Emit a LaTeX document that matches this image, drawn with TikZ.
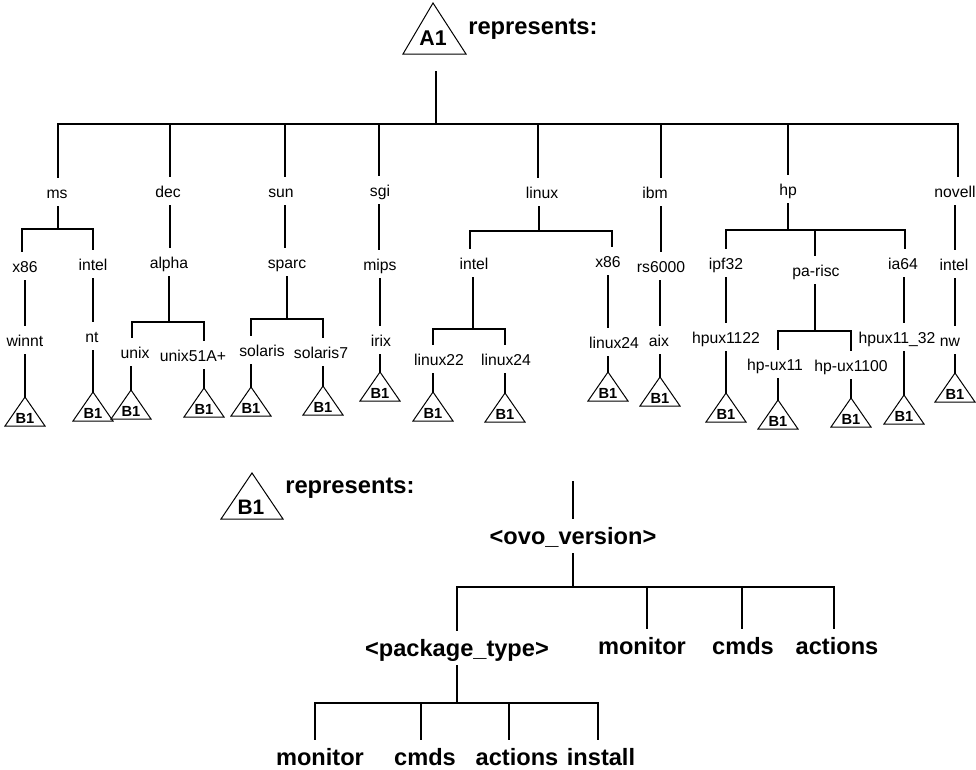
\documentclass[tikz,border=0pt]{standalone}
\usepackage{fontspec}
\setmainfont{Liberation Sans}
\newcommand\btri[3]{%
  \coordinate (#1) at (#2,#3);
  \draw[tri] ([shift={(-20,29)}]#1) -- (#1) -- ([shift={(20,29)}]#1) -- cycle;
  \node[btxt] (#1-t) at ([shift={(0,26)}]#1) {B1};}
\begin{document}
\begin{tikzpicture}[x=0.75pt,y=-0.75pt,
  ln/.style={line width=1.5pt,line cap=rect},
  tri/.style={line width=0.75pt,line join=miter},
  lab/.style={font=\fontsize{11.8}{13}\selectfont,anchor=base,inner sep=0pt,inner xsep=1pt,text height=15.75pt,text depth=6.75pt},
  blab/.style={font=\bfseries\fontsize{17.7}{20}\selectfont,anchor=base,inner sep=0pt,inner xsep=1pt,text height=19.5pt,text depth=7pt},
  replab/.style={font=\bfseries\fontsize{17.8}{20}\selectfont,anchor=base west,inner sep=0pt},
  btxt/.style={font=\bfseries\fontsize{11}{12}\selectfont,anchor=base,inner sep=0pt},
  bigtxt/.style={font=\bfseries\fontsize{16}{18}\selectfont,anchor=base,inner sep=0pt}]
\useasboundingbox (0,0) rectangle (976,769);

% ---------- A1 header ----------
\coordinate (A1) at (433,3);
\draw[tri] ([shift={(-30,51)}]A1) -- (A1) -- ([shift={(33,51)}]A1) -- cycle;
\node[bigtxt] (A1t) at (433,45) {A1};
\node[replab] (rep1) at (468,34) {represents:};

% ---------- root ----------
\coordinate (rt) at (436,72);
\coordinate (rb) at (436,124);
\draw[ln] (rt) -- (rb);
\coordinate (jms) at (58,124);
\coordinate (jdec) at (170,124);
\coordinate (jsun) at (285,124);
\coordinate (jsgi) at (379,124);
\coordinate (jlinux) at (538,124);
\coordinate (jibm) at (661,124);
\coordinate (jhp) at (788,124);
\coordinate (jnovell) at (958,124);
\draw[ln] (jms) -- (jnovell);

\node[lab] (ms) at (57,198) {ms};
\node[lab] (dec) at (168,197) {dec};
\node[lab] (sun) at (281,197) {sun};
\node[lab] (sgi) at (380,196) {sgi};
\node[lab] (linux) at (542,198) {linux};
\node[lab] (ibm) at (655,198) {ibm};
\node[lab] (hp) at (788,195) {hp};
\node[lab] (novell) at (955,197) {novell};
\foreach \n/\j in {ms/jms,dec/jdec,sun/jsun,sgi/jsgi,linux/jlinux,ibm/jibm,hp/jhp,novell/jnovell}
  \draw[ln] (\j) -- (\j |- \n.north);

% ---------- ms ----------
\coordinate (kms) at (58,229);
\draw[ln] (kms |- ms.south) -- (kms);
\coordinate (kx86) at (22,229);
\coordinate (kintela) at (93,229);
\draw[ln] (kx86) -- (kintela);
\node[lab] (x86a) at (25,272) {x86};
\node[lab] (intela) at (93,270) {intel};
\draw[ln] (kx86) -- (kx86 |- x86a.north);
\draw[ln] (kintela) -- (kintela |- intela.north);
\node[lab] (winnt) at (25,346) {winnt};
\btri{twinnt}{25}{397}
\draw[ln] (twinnt |- x86a.south) -- (twinnt |- winnt.north);
\draw[ln] (twinnt |- winnt.south) -- (twinnt);
\node[lab] (nt) at (92,342) {nt};
\btri{tnt}{93}{392}
\draw[ln] (tnt |- intela.south) -- (tnt |- nt.north);
\draw[ln] (tnt |- nt.south) -- (tnt);

% ---------- dec ----------
\node[lab] (alpha) at (169,268) {alpha};
\draw[ln] (jdec |- dec.south) -- (jdec |- alpha.north);
\coordinate (kdec) at (169,322);
\draw[ln] (kdec |- alpha.south) -- (kdec);
\coordinate (kunix) at (132,322);
\coordinate (kunix51) at (204,322);
\draw[ln] (kunix) -- (kunix51);
\node[lab] (unix) at (135,358) {unix};
\node[lab] (unix51) at (193,361) {unix51A+};
\draw[ln] (kunix) -- (kunix |- unix.north);
\draw[ln] (kunix51) -- (kunix51 |- unix51.north);
\btri{tunix}{131}{390}
\btri{tunix51}{204}{388}
\draw[ln] (tunix |- unix.south) -- (tunix);
\draw[ln] (tunix51 |- unix51.south) -- (tunix51);

% ---------- sun ----------
\node[lab] (sparc) at (287,268) {sparc};
\draw[ln] (jsun |- sun.south) -- (jsun |- sparc.north);
\coordinate (ksun) at (287,319);
\draw[ln] (ksun |- sparc.south) -- (ksun);
\coordinate (ksol) at (251,319);
\coordinate (ksol7) at (323,319);
\draw[ln] (ksol) -- (ksol7);
\node[lab] (solaris) at (262,356) {solaris};
\node[lab] (solaris7) at (321,358) {solaris7};
\draw[ln] (ksol) -- (ksol |- solaris.north);
\draw[ln] (ksol7) -- (ksol7 |- solaris7.north);
\btri{tsol}{251}{387}
\btri{tsol7}{323}{386}
\draw[ln] (tsol |- solaris.south) -- (tsol);
\draw[ln] (tsol7 |- solaris7.south) -- (tsol7);

% ---------- sgi ----------
\node[lab] (mips) at (380,270) {mips};
\draw[ln] (jsgi |- sgi.south) -- (jsgi |- mips.north);
\node[lab] (irix) at (381,346) {irix};
\btri{tirix}{380}{372}
\draw[ln] (tirix |- mips.south) -- (tirix |- irix.north);
\draw[ln] (tirix |- irix.south) -- (tirix);

% ---------- linux ----------
\coordinate (klinux) at (539,231);
\draw[ln] (klinux |- linux.south) -- (klinux);
\coordinate (kintelb) at (470,231);
\coordinate (kx86b) at (612,231);
\draw[ln] (kintelb) -- (kx86b);
\node[lab] (intelb) at (474,269) {intel};
\node[lab] (x86b) at (608,267) {x86};
\draw[ln] (kintelb) -- (kintelb |- intelb.north);
\draw[ln] (kx86b) -- (kx86b |- x86b.north);
\coordinate (kintelc) at (473,329);
\draw[ln] (kintelc |- intelb.south) -- (kintelc);
\coordinate (kl22) at (433,329);
\coordinate (kl24) at (505,329);
\draw[ln] (kl22) -- (kl24);
\node[lab] (linux22) at (439,365) {linux22};
\node[lab] (linux24a) at (506,365) {linux24};
\draw[ln] (kl22) -- (kl22 |- linux22.north);
\draw[ln] (kl24) -- (kl24 |- linux24a.north);
\btri{tl22}{433}{392}
\btri{tl24}{505}{393}
\draw[ln] (tl22 |- linux22.south) -- (tl22);
\draw[ln] (tl24 |- linux24a.south) -- (tl24);
\node[lab] (linux24b) at (614,348) {linux24};
\btri{tl24b}{608}{372}
\draw[ln] (tl24b |- x86b.south) -- (tl24b |- linux24b.north);
\draw[ln] (tl24b |- linux24b.south) -- (tl24b);

% ---------- ibm ----------
\node[lab] (rs6000) at (661,272) {rs6000};
\draw[ln] (jibm |- ibm.south) -- (jibm |- rs6000.north);
\node[lab] (aix) at (659,346) {aix};
\btri{taix}{660}{377}
\draw[ln] (taix |- rs6000.south) -- (taix |- aix.north);
\draw[ln] (taix |- aix.south) -- (taix);

% ---------- hp ----------
\coordinate (khp) at (788,230);
\draw[ln] (khp |- hp.south) -- (khp);
\coordinate (kipf) at (726,230);
\coordinate (kpa) at (815,230);
\coordinate (kia64) at (905,230);
\draw[ln] (kipf) -- (kia64);
\node[lab] (ipf32) at (726,269) {ipf32};
\node[lab] (parisc) at (816,276) {pa-risc};
\node[lab] (ia64) at (903,269) {ia64};
\draw[ln] (kipf) -- (kipf |- ipf32.north);
\draw[ln] (kpa) -- (kpa |- parisc.north);
\draw[ln] (kia64) -- (kia64 |- ia64.north);
\node[lab] (hpux1122) at (726,343) {hpux1122};
\btri{thpux1122}{726}{393}
\draw[ln] (thpux1122 |- ipf32.south) -- (thpux1122 |- hpux1122.north);
\draw[ln] (thpux1122 |- hpux1122.south) -- (thpux1122);
\coordinate (kpa2) at (815,331);
\draw[ln] (kpa2 |- parisc.south) -- (kpa2);
\coordinate (khpux11) at (778,331);
\coordinate (khpux1100) at (851,331);
\draw[ln] (khpux11) -- (khpux1100);
\node[lab] (hpux11) at (775,370) {hp-ux11};
\node[lab] (hpux1100) at (851,371) {hp-ux1100};
\draw[ln] (khpux11) -- (khpux11 |- hpux11.north);
\draw[ln] (khpux1100) -- (khpux1100 |- hpux1100.north);
\btri{thpux11}{778}{400}
\btri{thpux1100}{851}{398}
\draw[ln] (thpux11 |- hpux11.south) -- (thpux11);
\draw[ln] (thpux1100 |- hpux1100.south) -- (thpux1100);
\node[lab] (hpux1132) at (897,343) {hpux11\_32};
\btri{thpux1132}{904}{395}
\draw[ln] (thpux1132 |- ia64.south) -- (thpux1132 |- hpux1132.north);
\draw[ln] (thpux1132 |- hpux1132.south) -- (thpux1132);

% ---------- novell ----------
\node[lab] (intelc) at (954,270) {intel};
\node[lab] (nw) at (950,346) {nw};
\btri{tnw}{955}{373}
\draw[ln] (tnw |- novell.south) -- (tnw |- intelc.north);
\draw[ln] (tnw |- intelc.south) -- (tnw |- nw.north);
\draw[ln] (tnw |- nw.south) -- (tnw);

% ---------- B1 legend ----------
\coordinate (B1big) at (252,473);
\draw[tri] ([shift={(-31,46)}]B1big) -- (B1big) -- ([shift={(31,46)}]B1big) -- cycle;
\node[font=\bfseries\fontsize{15.7}{18}\selectfont,anchor=base,inner sep=0pt] (B1t) at (251,514) {B1};
\node[replab] (rep2) at (285,493) {represents:};

\coordinate (ovotop) at (573,482);
\node[blab] (ovo) at (573,544) {\textless ovo\_version\textgreater};
\draw[ln] (ovotop) -- (ovo.north);
\coordinate (kovo) at (573,587);
\draw[ln] (ovo.south) -- (kovo);
\coordinate (kpt) at (457,587);
\coordinate (kmon) at (647,587);
\coordinate (kcmd) at (742,587);
\coordinate (kact) at (834,587);
\draw[ln] (kpt) -- (kact);
\node[blab] (pkg) at (457,656) {\textless package\_type\textgreater};
\node[blab] (mon1) at (642,654) {monitor};
\node[blab] (cmd1) at (743,654) {cmds};
\node[blab] (act1) at (837,654) {actions};
\draw[ln] (kpt) -- (kpt |- pkg.north);
\draw[ln] (kmon) -- (kmon |- mon1.north);
\draw[ln] (kcmd) -- (kcmd |- cmd1.north);
\draw[ln] (kact) -- (kact |- act1.north);
\coordinate (kpkg) at (457,703);
\draw[ln] (pkg.south) -- (kpkg);
\coordinate (kmon2) at (315,703);
\coordinate (kcmd2) at (421,703);
\coordinate (kact2) at (509,703);
\coordinate (kins) at (598,703);
\draw[ln] (kmon2) -- (kins);
\node[blab] (mon2) at (320,765) {monitor};
\node[blab] (cmd2) at (425,765) {cmds};
\node[blab] (act2) at (517,765) {actions};
\node[blab] (ins) at (601,765) {install};
\draw[ln] (kmon2) -- (kmon2 |- mon2.north);
\draw[ln] (kcmd2) -- (kcmd2 |- cmd2.north);
\draw[ln] (kact2) -- (kact2 |- act2.north);
\draw[ln] (kins) -- (kins |- ins.north);
\end{tikzpicture}
\end{document}
